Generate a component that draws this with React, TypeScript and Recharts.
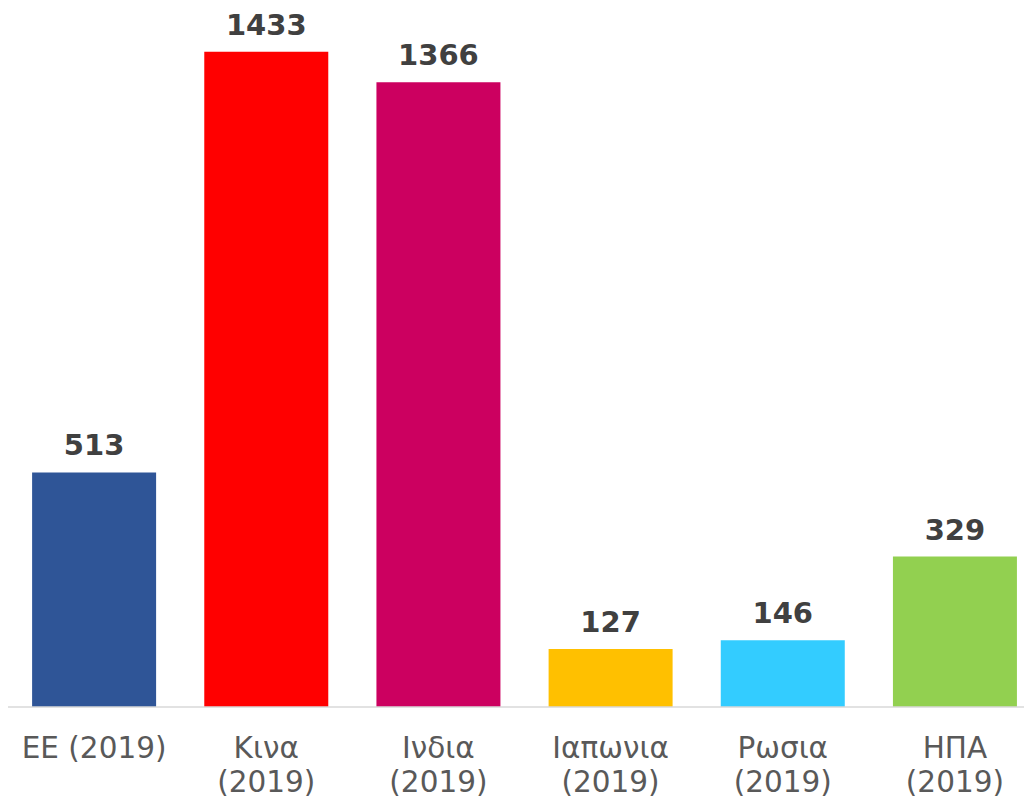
import { BarChart, Bar, XAxis, YAxis, Cell, LabelList } from "recharts";

const regions = ["EE (2019)", "Κινα\n(2019)", "Ινδια\n(2019)", "Ιαπωνια\n(2019)", "Ρωσια\n(2019)", "ΗΠΑ\n(2019)"];
const population = [513, 1433, 1366, 127, 146, 329];
const barColors = ["#2F5597", "#FF0000", "#CC0060", "#FFC000", "#33CCFF", "#92D050"];

const data = regions.map((name, i) => ({ name, value: population[i] }));

const FONT = "'DejaVu Sans', Verdana, sans-serif";

function RegionTick(props: any) {
  const { x, y, payload } = props;
  const lines = String(payload.value).split("\n");
  return (
    <text x={x} y={y} textAnchor="middle" fill="#595959" fontSize={29.5} fontFamily={FONT}>
      {lines.map((line, i) => (
        <tspan key={i} x={x} dy={i === 0 ? 51 : 34}>
          {line}
        </tspan>
      ))}
    </text>
  );
}

export default function App() {
  return (
    <div
      style={{
        position: "absolute",
        left: 0,
        top: 0,
        width: 1024,
        height: 802,
        overflow: "hidden",
        background: "#fff",
      }}
    >
      <BarChart
        width={1041}
        height={802}
        data={data}
        margin={{ top: 21, right: 0, left: 8, bottom: 0 }}
        barCategoryGap="14%"
      >
        <XAxis
          dataKey="name"
          height={95}
          tickLine={false}
          tickSize={0}
          tickMargin={0}
          interval={0}
          axisLine={{ stroke: "#d9d9d9", strokeWidth: 1.5 }}
          tick={<RegionTick />}
        />
        <YAxis hide domain={[0, 1500]} />
        <Bar dataKey="value" isAnimationActive={false}>
          {data.map((d, i) => (
            <Cell key={d.name} fill={barColors[i]} />
          ))}
          <LabelList
            dataKey="value"
            position="top"
            offset={17}
            fill="#404040"
            fontSize={29}
            fontWeight="bold"
            fontFamily={FONT}
          />
        </Bar>
      </BarChart>
    </div>
  );
}
